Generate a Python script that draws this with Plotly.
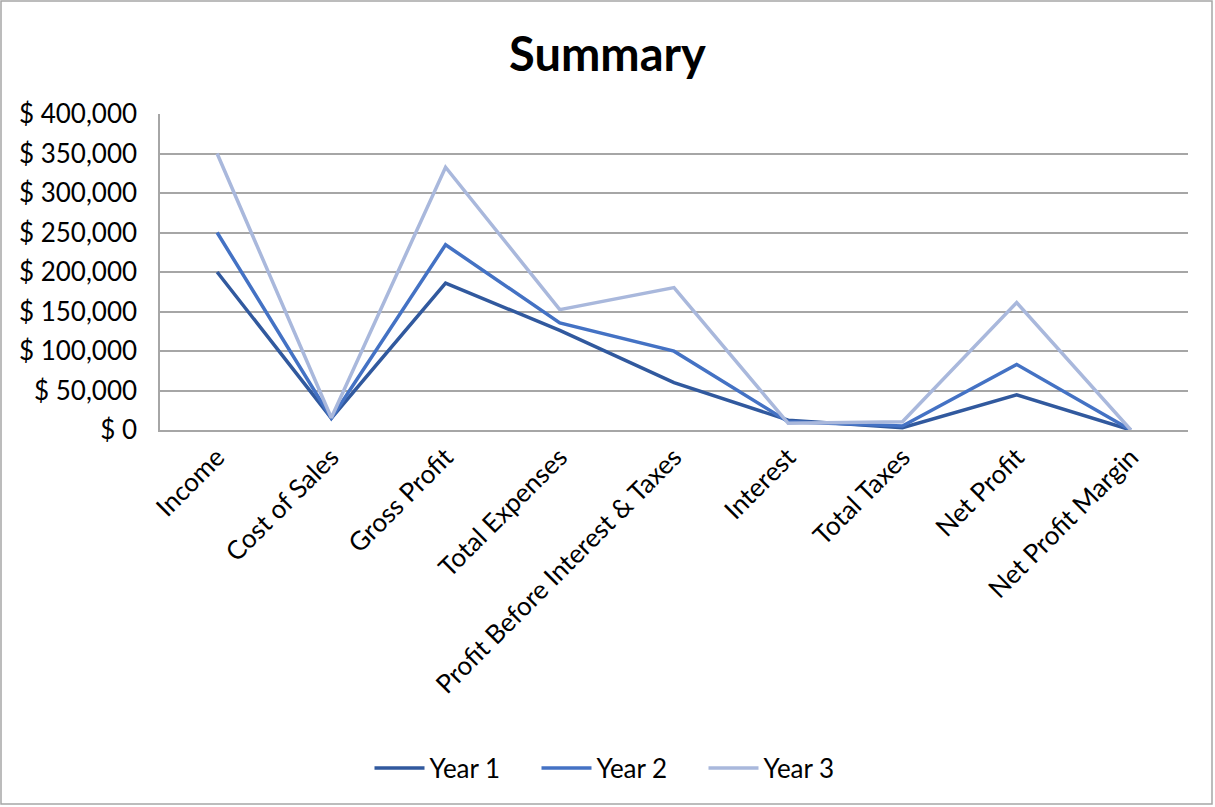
import plotly.graph_objects as go

categories = ["Income", "Cost of Sales", "Gross Profit", "Total Expenses",
              "Profit Before Interest & Taxes", "Interest", "Total Taxes",
              "Net Profit", "Net Profit Margin"]
year1 = [200000, 15000, 186000, 126000, 60000, 12500, 3000, 44600, 0.2]
year2 = [250000, 15000, 234500, 135600, 99800, 10500, 5000, 83000, 0.3]
year3 = [350000, 15500, 332600, 152400, 180200, 8400, 10500, 161300, 0.5]
series_names = ["Year 1", "Year 2", "Year 3"]
colors = ["#31599E", "#4472C4", "#A9B8DC"]
y_ticks = [0, 50000, 100000, 150000, 200000, 250000, 300000, 350000, 400000]
y_tick_text = ["$ 0", "$ 50,000", "$ 100,000", "$ 150,000", "$ 200,000",
               "$ 250,000", "$ 300,000", "$ 350,000", "$ 400,000"]

FONT = "Lato"
fig = go.Figure()
for name, vals, c in zip(series_names, [year1, year2, year3], colors):
    fig.add_trace(go.Scatter(x=categories, y=vals, name=name, mode="lines",
                             line=dict(color=c, width=3.5)))

W, H = 1215, 807
ml, mr, mt, mb = 160, 27, 114, 377
pw, ph = W - ml - mr, H - mt - mb

fig.update_layout(
    width=W, height=H,
    margin=dict(l=ml, r=mr, t=mt, b=mb),
    paper_bgcolor="white", plot_bgcolor="white",
    title=dict(text="<b>Summary</b>", x=0.5, xanchor="center",
               y=1 - 55 / H, yanchor="middle",
               font=dict(family=FONT, size=47, color="#000000")),
    font=dict(family=FONT, color="#000000"),
    xaxis=dict(type="category", range=[-0.5, 8.5], tickangle=-45,
               tickfont=dict(size=26, color="#000000"), showgrid=False,
               showline=True, linecolor="#A6A6A6", linewidth=1.5,
               ticks="", ticklen=0),
    yaxis=dict(range=[0, 400000], tickvals=y_ticks, ticktext=y_tick_text,
               tickfont=dict(size=26, color="#000000"),
               showgrid=True, gridcolor="#A6A6A6", gridwidth=1.5,
               showline=True, linecolor="#A6A6A6", linewidth=1.5,
               zeroline=False, ticks="", ticklen=0, ticklabelstandoff=16),
    legend=dict(orientation="h", x=0.5 - 54 / pw, xanchor="center",
                y=-(768 - 430) / ph, yanchor="middle",
                font=dict(size=26, color="#000000"), itemwidth=50,
                entrywidth=102, entrywidthmode="pixels"),
    showlegend=True,
)

# outer chart border
fig.add_shape(type="rect", xref="paper", yref="paper",
              x0=(1 - ml) / pw, x1=(W - 3 - ml) / pw,
              y0=-(H - 3 - mt - ph) / ph, y1=(mt - 1) / ph + 1,
              line=dict(color="#A6A6A6", width=1.5), layer="below")

fig.write_html("out.html")
